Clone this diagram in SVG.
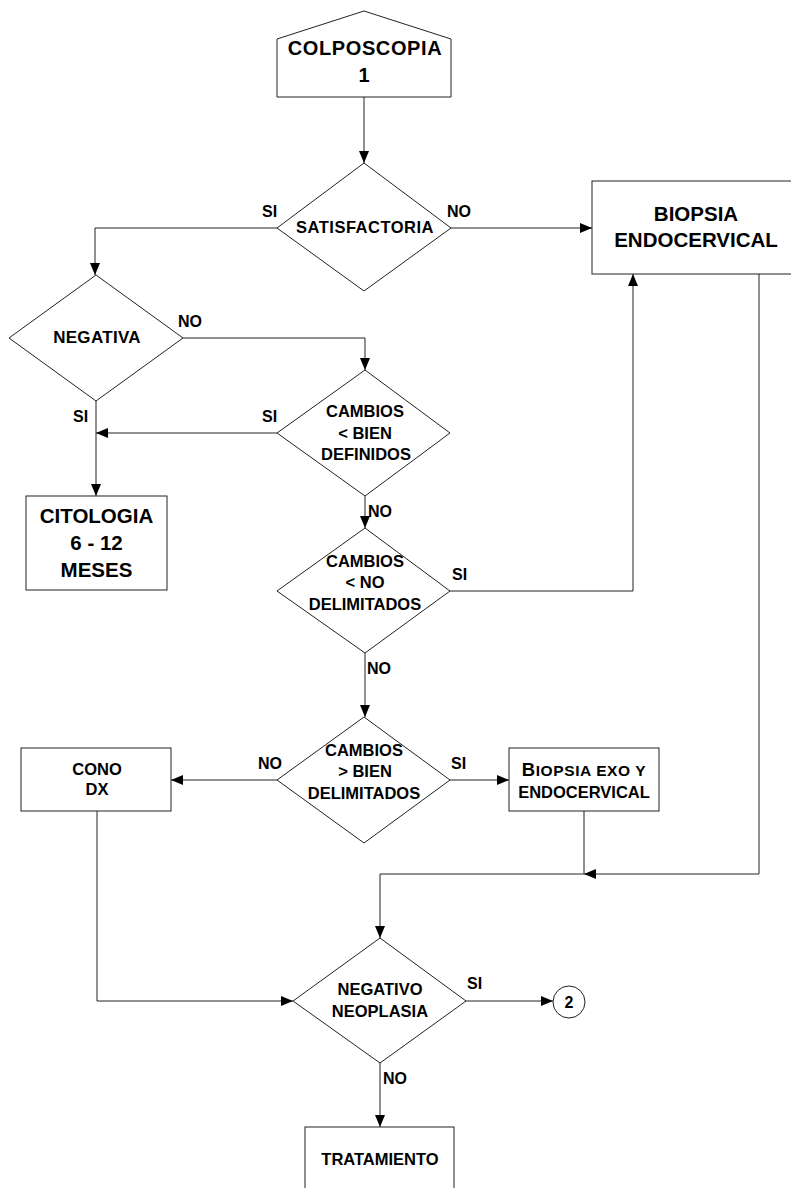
<svg xmlns="http://www.w3.org/2000/svg" width="791" height="1188" viewBox="0 0 791 1188">
<defs>
<marker id="arr" viewBox="0 0 12 10" refX="12" refY="5" markerWidth="12" markerHeight="10" markerUnits="userSpaceOnUse" orient="auto">
<path d="M0,0 L12,5 L0,10 Z" fill="#000"/>
</marker>
<style>
.s{fill:#fff;stroke:#222;stroke-width:1}
.c{fill:none;stroke:#222;stroke-width:1}
.t{font-family:"Liberation Sans",Arial,sans-serif;font-weight:bold;fill:#000;text-anchor:middle}
.l{font-family:"Liberation Sans",Arial,sans-serif;font-weight:bold;fill:#000;font-size:16px}
</style>
</defs>
<rect width="791" height="1188" fill="#fff"/>
<g id="connectors">
<path class="c" d="M364,97 V163" marker-end="url(#arr)"/>
<path class="c" d="M277,228 H95 V275" marker-end="url(#arr)"/>
<path class="c" d="M451,228 H592" marker-end="url(#arr)"/>
<path class="c" d="M183,338 H365 V370" marker-end="url(#arr)"/>
<path class="c" d="M96,401 V496" marker-end="url(#arr)"/>
<path class="c" d="M277,433 H96" marker-end="url(#arr)"/>
<path class="c" d="M365,496 V528" marker-end="url(#arr)"/>
<path class="c" d="M450,591 H633 V274" marker-end="url(#arr)"/>
<path class="c" d="M365,653 V717" marker-end="url(#arr)"/>
<path class="c" d="M277,780 H171" marker-end="url(#arr)"/>
<path class="c" d="M450,780 H509" marker-end="url(#arr)"/>
<path class="c" d="M759,274 V874 H584" marker-end="url(#arr)"/>
<path class="c" d="M584,874 H380 V938" marker-end="url(#arr)"/>
<path class="c" d="M584,811 V874"/>
<path class="c" d="M97,811 V1001 H293" marker-end="url(#arr)"/>
<path class="c" d="M466,1001 H553" marker-end="url(#arr)"/>
<path class="c" d="M380,1063 V1127" marker-end="url(#arr)"/>
</g>
<g id="labels">
<text class="l" x="262" y="217">SI</text>
<text class="l" x="447" y="217">NO</text>
<text class="l" x="178" y="327">NO</text>
<text class="l" x="73" y="422">SI</text>
<text class="l" x="262" y="422">SI</text>
<text class="l" x="368" y="517">NO</text>
<text class="l" x="452" y="580">SI</text>
<text class="l" x="367" y="674">NO</text>
<text class="l" x="258" y="769">NO</text>
<text class="l" x="451" y="769">SI</text>
<text class="l" x="467" y="989">SI</text>
<text class="l" x="383" y="1084">NO</text>
</g>
<g id="colposcopia">
<polygon class="s" points="277,97 277,39 364,11 451,39 451,97"/>
<text class="t" x="365" y="55" font-size="20" letter-spacing="0.6">COLPOSCOPIA</text>
<text class="t" x="364" y="82" font-size="20">1</text>
</g>
<g id="satisfactoria">
<polygon class="s" points="364,163 451,228 364,291 277,228"/>
<text class="t" x="365" y="233" font-size="16.5" letter-spacing="0.5">SATISFACTORIA</text>
</g>
<g id="biopsia-endocervical">
<rect class="s" x="592" y="181" width="205" height="93"/>
<text class="t" x="696" y="221" font-size="20.5">BIOPSIA</text>
<text class="t" x="696" y="247" font-size="20.5">ENDOCERVICAL</text>
</g>
<g id="negativa">
<polygon class="s" points="96,275 183,338 96,401 9,338"/>
<text class="t" x="97" y="343" font-size="17" letter-spacing="0.3">NEGATIVA</text>
</g>
<g id="cambios-bien-definidos">
<polygon class="s" points="365,370 450,433 365,496 277,433"/>
<text class="t" x="365" y="417" font-size="16.5">CAMBIOS</text>
<text class="t" x="365" y="439" font-size="16.5">&lt; BIEN</text>
<text class="t" x="366" y="460" font-size="16.5">DEFINIDOS</text>
</g>
<g id="citologia">
<rect class="s" x="26" y="496" width="141" height="94"/>
<text class="t" x="96.5" y="523" font-size="20.5">CITOLOGIA</text>
<text class="t" x="96.5" y="550" font-size="20.5">6 - 12</text>
<text class="t" x="96.5" y="577" font-size="20.5">MESES</text>
</g>
<g id="cambios-no-delimitados">
<polygon class="s" points="365,528 450,591 365,653 277,591"/>
<text class="t" x="365" y="567" font-size="16.5">CAMBIOS</text>
<text class="t" x="365" y="588" font-size="16.5">&lt; NO</text>
<text class="t" x="365" y="610" font-size="16.5">DELIMITADOS</text>
</g>
<g id="cambios-bien-delimitados">
<polygon class="s" points="364,717 450,780 364,843 277,780"/>
<text class="t" x="364" y="756" font-size="16.5">CAMBIOS</text>
<text class="t" x="365" y="777" font-size="16.5">&gt; BIEN</text>
<text class="t" x="364" y="799" font-size="16.5">DELIMITADOS</text>
</g>
<g id="cono-dx">
<rect class="s" x="21" y="748" width="150" height="63"/>
<text class="t" x="97" y="775" font-size="16.5">CONO</text>
<text class="t" x="97" y="795" font-size="16.5">DX</text>
</g>
<g id="biopsia-exo">
<rect class="s" x="509" y="748" width="150" height="63"/>
<text class="t" x="584" y="776" font-size="15.5" letter-spacing="0.6"><tspan font-size="18.5">B</tspan>IOPSIA EXO Y</text>
<text class="t" x="584" y="798" font-size="16.5">ENDOCERVICAL</text>
</g>
<g id="negativo-neoplasia">
<polygon class="s" points="380,938 466,1001 380,1063 293,1001"/>
<text class="t" x="380" y="995" font-size="16.5">NEGATIVO</text>
<text class="t" x="380" y="1017" font-size="16.5">NEOPLASIA</text>
</g>
<g id="conector-2">
<circle class="s" cx="569" cy="1002" r="16"/>
<text class="t" x="569" y="1008" font-size="16">2</text>
</g>
<g id="tratamiento">
<rect class="s" x="305" y="1127" width="149" height="70"/>
<text class="t" x="380" y="1165" font-size="16.5">TRATAMIENTO</text>
</g>
</svg>
